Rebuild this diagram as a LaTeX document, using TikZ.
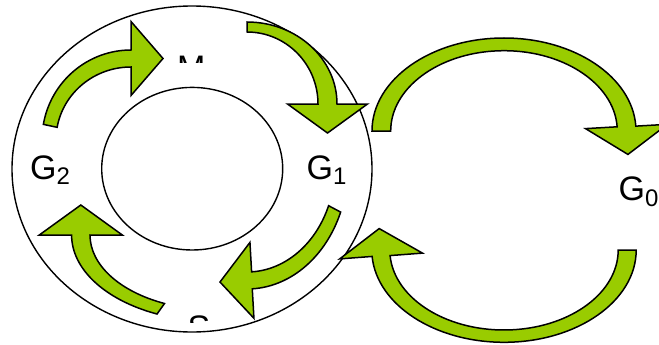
\documentclass[tikz,border=0pt]{standalone}
\usepackage{fontspec}
\setmainfont{Liberation Sans}
\usetikzlibrary{calc}

\definecolor{arrowgreen}{RGB}{153,204,0}

% subscript index, set smaller and lowered
\newcommand\lowidx[1]{\raisebox{-5.5pt}{\fontsize{24}{24}\selectfont #1}}

% curved block arrow: #1 centre, #2/#3 outer radii, #4/#5 inner radii,
% #6 tail angle, #7 head angle, #8 half width of head, #9 head length
\newcommand\bentarrow[9]{%
  \pgfmathsetmacro\bRx{(#2+#4)/2}%
  \pgfmathsetmacro\bRy{(#3+#5)/2}%
  \pgfmathsetmacro\bTip{#7+90*sign(#7-#6)}%
  \filldraw[blockarrow]
    ($(#1)+(#6:#2 and #3)$) arc[start angle=#6, end angle=#7, x radius=#2, y radius=#3]
    -- ($(#1)+(#7:{\bRx} and {\bRy})+(#7:#8)$)
    -- ($(#1)+(#7:{\bRx} and {\bRy})+(\bTip:#9)$)
    -- ($(#1)+(#7:{\bRx} and {\bRy})+(#7:-#8)$)
    -- ($(#1)+(#7:#4 and #5)$)
    arc[start angle=#7, end angle=#6, x radius=#4, y radius=#5]
    -- cycle;}

\tikzset{
  blockarrow/.style={fill=arrowgreen, draw=black, line width=1.5pt},
  ring/.style={draw=black, line width=1.4pt, fill=white},
  lbl/.style={inner sep=0pt, anchor=base west, font=\fontsize{34}{34}\selectfont},
}

\begin{document}
\begin{tikzpicture}[x=1pt, y=-1pt]
  \fill[white] (0,0) rectangle (659,345);
  \useasboundingbox (0,0) rectangle (659,345);

  % ring
  \draw[ring] (192,169) ellipse[x radius=180, y radius=163];
  \draw[ring] (192.2,168.7) ellipse[x radius=90.5, y radius=81.3];

  % arrows round the ring
  \bentarrow{131,140}{89}{90}{75}{73}{190}{270}{37}{32}
  \bentarrow{247,104}{90}{82}{71}{72}{270}{360}{40}{29}
  \bentarrow{247,166}{101}{123}{88}{106}{22}{87}{38}{32}
  \bentarrow{215.6,235}{144}{86.5}{125.6}{75}{114}{180}{41.5}{30}

  % arrows to and from the outer stage
  \bentarrow{504,131}{132}{93}{113.3}{80.3}{180}{357}{41}{28}
  \bentarrow{504,250}{132.2}{92.3}{114.2}{80}{0}{176}{41.5}{27.5}

  % labels
  \node[lbl] (G2) at (30,179) {G\lowidx{2}};
  \node[lbl] (G1) at (306.5,179) {G\lowidx{1}};
  \node[lbl] (G0) at (618.5,200.5) {G\lowidx{0}};
  \begin{scope}
    \clip (150,0) rectangle (230,62.3);
    \node[lbl] (M) at (176.8,79.5) {M};
  \end{scope}
  \begin{scope}
    \clip (150,290) rectangle (230,322);
    \node[lbl] (S) at (187.5,339) {S};
  \end{scope}
\end{tikzpicture}
\end{document}
